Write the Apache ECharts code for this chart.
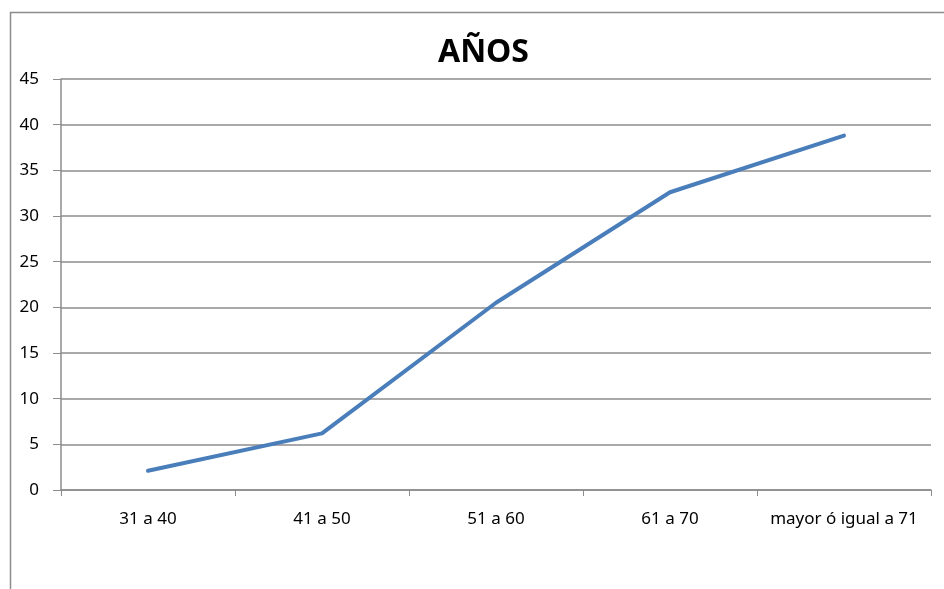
<!DOCTYPE html>
<html>
<head>
<meta charset="utf-8">
<script src="https://cdn.jsdelivr.net/npm/echarts@6/dist/echarts.min.js"></script>
<style>
  html, body { margin: 0; padding: 0; background: #fff; }
  #chart { width: 944px; height: 589px; }
</style>
</head>
<body>
<div id="chart"></div>
<script>
// Age groups and their values
const categories = ['31 a 40', '41 a 50', '51 a 60', '61 a 70', 'mayor ó igual a 71'];
const values = [2.1, 6.2, 20.5, 32.6, 38.8];
const yTicks = { min: 0, max: 45, interval: 5 };

const gridColor = '#8c8c8c';
const font = '"Noto Sans", "Open Sans", sans-serif';

const chart = echarts.init(document.getElementById('chart'));
chart.setOption({
  animation: false,
  backgroundColor: '#ffffff',
  title: {
    text: 'AÑOS',
    left: 438,
    top: 37,
    padding: 0,
    textStyle: { fontFamily: font, fontSize: 32, fontWeight: 'bold', color: '#000' }
  },
  graphic: [{
    type: 'rect',
    shape: { x: 10.5, y: 12.5, width: 960, height: 600 },
    style: { fill: 'none', stroke: '#8c8c8c', lineWidth: 1.5 },
    silent: true
  }],
  grid: { left: 61, top: 79, right: 13, bottom: 99 },
  xAxis: {
    type: 'category',
    data: categories,
    boundaryGap: true,
    axisLine: { lineStyle: { color: gridColor, width: 1.5 } },
    axisTick: { show: true, length: 6, interval: 0, lineStyle: { color: gridColor } },
    axisLabel: { fontFamily: font, fontSize: 17, color: '#000', margin: 21, interval: 0 },
    splitLine: { show: false }
  },
  yAxis: {
    type: 'value',
    min: yTicks.min,
    max: yTicks.max,
    interval: yTicks.interval,
    axisLine: { show: true, lineStyle: { color: gridColor, width: 1.5 } },
    axisTick: { show: true, length: 8, lineStyle: { color: gridColor } },
    axisLabel: { fontFamily: font, fontSize: 17, color: '#000', margin: 22 },
    splitLine: { show: true, lineStyle: { color: gridColor, width: 1.5 } }
  },
  series: [{
    type: 'line',
    data: values,
    symbol: 'none',
    lineStyle: { color: '#4a7ebb', width: 4, cap: 'round', join: 'round' }
  }]
});
</script>
</body>
</html>
